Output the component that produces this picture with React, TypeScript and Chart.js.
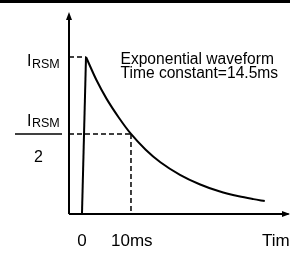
import React, { useEffect, useRef } from "react";
import { Chart, registerables } from "chart.js";

Chart.register(...registerables);

// Decay curve (time in ms, current as fraction of I_RSM)
const curveTime = [0.82, 3, 5, 7.5, 10, 13, 16, 20, 24, 28, 32, 35, 37.3];
const curveValue = [1.0, 0.85, 0.735, 0.615, 0.51, 0.41, 0.33, 0.25, 0.19, 0.145, 0.113, 0.095, 0.083];
const riseTime = [0, 0.82];
const riseValue = [0, 1];
const peakValue = 1;
const halfValue = 0.51;
const markTime = 10;
const xTickValues = [0, 10];
const xTickLabels = ["0", "10ms"];
const xAxisTitle = "Time";
const noteLines = ["Exponential waveform", "Time constant=14.5ms"];
const yLabelMain = "I";
const yLabelSub = "RSM";
const yHalfDenominator = "2";

// scale extents (data units)
const X_MIN = -16.73;
const X_MAX = 42.45;
const Y_MIN = -0.248;
const Y_MAX = 1.363;
const AXIS_X = -2.65;
const AXIS_Y_TOP = 1.287;

const FONT = "'Liberation Sans', Arial, sans-serif";

export default function App() {
  const ref = useRef<HTMLCanvasElement | null>(null);

  useEffect(() => {
    document.body.style.margin = "0";
    const canvas = ref.current;
    if (!canvas) return;

    const black = "#000";
    const dash = [5, 3];

    const overlay = {
      id: "overlay",
      afterDatasetsDraw(chart: any) {
        const ctx = chart.ctx as CanvasRenderingContext2D;
        const xs = chart.scales.x;
        const ys = chart.scales.y;
        const px = (v: number) => xs.getPixelForValue(v);
        const py = (v: number) => ys.getPixelForValue(v);
        ctx.save();
        ctx.fillStyle = black;
        ctx.strokeStyle = black;

        // top border line
        ctx.lineWidth = 3;
        ctx.beginPath();
        ctx.moveTo(0, 1.5);
        ctx.lineTo(chart.width, 1.5);
        ctx.stroke();

        // arrowheads
        const ax = px(AXIS_X);
        const ayTop = py(AXIS_Y_TOP);
        ctx.beginPath();
        ctx.moveTo(ax, ayTop);
        ctx.lineTo(ax - 3, ayTop + 8);
        ctx.lineTo(ax + 3, ayTop + 8);
        ctx.closePath();
        ctx.fill();
        const xTip = px(X_MAX);
        const y0 = py(0);
        ctx.beginPath();
        ctx.moveTo(xTip, y0);
        ctx.lineTo(xTip - 8, y0 - 3);
        ctx.lineTo(xTip - 8, y0 + 3);
        ctx.closePath();
        ctx.fill();

        // notes
        ctx.textBaseline = "alphabetic";
        ctx.textAlign = "left";
        ctx.font = `15.6px ${FONT}`;
        ctx.fillText(noteLines[0], 120.5, 63.5);
        ctx.fillText(noteLines[1], 120.5, 77.5);

        // y labels: I_RSM at peak
        const yPeak = py(peakValue);
        ctx.font = `16px ${FONT}`;
        ctx.fillText(yLabelMain, 27, yPeak + 9);
        ctx.font = `12.5px ${FONT}`;
        ctx.fillText(yLabelSub, 32, yPeak + 10.5);

        // I_RSM / 2 at half
        const yHalf = py(halfValue);
        ctx.font = `16px ${FONT}`;
        ctx.fillText(yLabelMain, 27, yHalf - 8);
        ctx.font = `12.5px ${FONT}`;
        ctx.fillText(yLabelSub, 32, yHalf - 6.5);
        ctx.lineWidth = 1.5;
        ctx.beginPath();
        ctx.moveTo(15, yHalf);
        ctx.lineTo(62, yHalf);
        ctx.stroke();
        ctx.font = `16px ${FONT}`;
        ctx.fillText(yHalfDenominator, 34, yHalf + 28);

        // x tick labels
        ctx.font = `17px ${FONT}`;
        ctx.textAlign = "center";
        ctx.fillText(xTickLabels[0], px(xTickValues[0]), 245.5);
        ctx.textAlign = "left";
        ctx.fillText(xTickLabels[1], px(xTickValues[1]) - 20, 245.5);
        ctx.fillText(xAxisTitle, 262, 245.5);

        ctx.restore();
      },
    };

    const line = (data: { x: number; y: number }[], extra: any = {}) => ({
      data,
      borderColor: black,
      borderWidth: 2,
      pointRadius: 0,
      fill: false,
      tension: 0,
      ...extra,
    });

    const chart = new Chart(canvas, {
      type: "line",
      data: {
        datasets: [
          line(curveTime.map((t, i) => ({ x: t, y: curveValue[i] })), {
            cubicInterpolationMode: "monotone",
          }),
          line(riseTime.map((t, i) => ({ x: t, y: riseValue[i] }))),
          line([{ x: AXIS_X, y: peakValue }, { x: riseTime[1], y: peakValue }], { borderDash: dash, borderWidth: 1.5 }),
          line([{ x: AXIS_X, y: halfValue }, { x: markTime, y: halfValue }], { borderDash: dash, borderWidth: 1.5 }),
          line([{ x: markTime, y: halfValue }, { x: markTime, y: 0 }], { borderDash: dash, borderWidth: 1.5 }),
          line([{ x: AXIS_X, y: 0 }, { x: AXIS_X, y: AXIS_Y_TOP - 0.03 }]),
          line([{ x: AXIS_X, y: 0 }, { x: X_MAX - 0.3, y: 0 }]),
        ],
      },
      options: {
        responsive: false,
        maintainAspectRatio: false,
        devicePixelRatio: 1,
        animation: false,
        layout: { padding: 0 },
        plugins: { legend: { display: false }, tooltip: { enabled: false } },
        scales: {
          x: { type: "linear", display: false, min: X_MIN, max: X_MAX },
          y: { type: "linear", display: false, min: Y_MIN, max: Y_MAX },
        },
      },
      plugins: [overlay],
    });
    return () => chart.destroy();
  }, []);

  return (
    <div style={{ width: 290, height: 253, background: "#fff" }}>
      <canvas ref={ref} width={290} height={253} style={{ display: "block", width: 290, height: 253 }} />
    </div>
  );
}
